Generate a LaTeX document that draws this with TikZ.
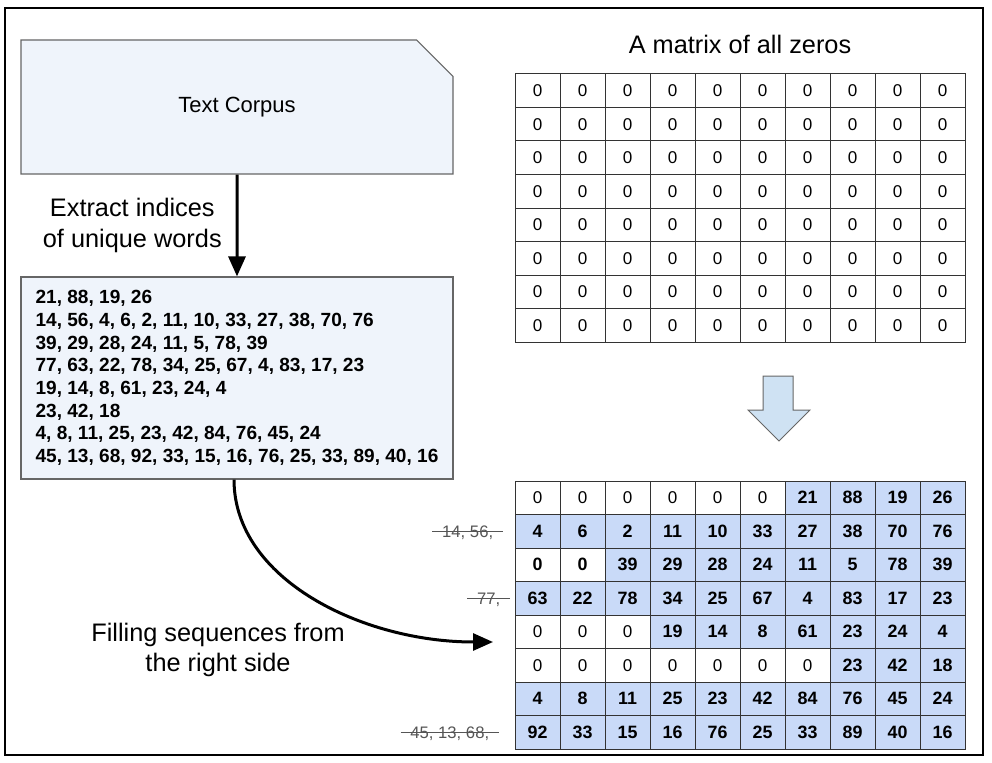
\documentclass[tikz,border=0pt]{standalone}
\usepackage{fontspec}
\setmainfont{Liberation Sans}
\usetikzlibrary{arrows.meta,shapes.misc}

\definecolor{boxfill}{RGB}{239,244,251}
\definecolor{boxline}{RGB}{102,102,102}
\definecolor{cellblue}{RGB}{201,218,248}
\definecolor{cellline}{RGB}{51,51,51}
\definecolor{arrowblue}{RGB}{207,226,243}
\definecolor{strikegray}{RGB}{85,85,85}

\tikzset{every picture/.style={line width=0.75pt}}
\tikzset{
  cell/.style={draw=cellline, line width=0.75pt, minimum width=33.75pt, minimum height=25.125pt, inner sep=0pt},
  zerocell/.style={cell, fill=white, font=\fontsize{12.8}{15}\selectfont},
  zerobold/.style={cell, fill=white, font=\fontsize{13.4}{15}\selectfont\bfseries},
  numcell/.style={cell, fill=cellblue, font=\fontsize{13.4}{15}\selectfont\bfseries},
  flowbox/.style={draw=boxline, fill=boxfill, line width=0.9pt},
  bigtext/.style={font=\fontsize{19}{23}\selectfont, align=center},
  thickarrow/.style={line width=2.25pt, -{Triangle[width=12.75pt,length=15pt]}},
  struck/.style={text=strikegray, font=\fontsize{12.5}{15}\selectfont, text height=9pt, text depth=0pt, inner xsep=7pt, anchor=east},
  strikeline/.style={strikegray, line width=0.9pt}
}

\begin{document}
\begin{tikzpicture}[x=0.75pt,y=0.75pt,yscale=-1]
	\useasboundingbox (0,0) rectangle (992,763);

	%Shape: Frame
	\draw [line width=1.2pt] (5,8) rectangle (983,755);

	%Shape: Text Corpus box
	\node [flowbox, chamfered rectangle, chamfered rectangle corners=north east, chamfered rectangle xsep=17.25pt, chamfered rectangle ysep=16.5pt, minimum width=324pt, minimum height=100.5pt, font=\fontsize{16.5}{20}\selectfont] (corpus) at (237,107) {Text Corpus};
	%Shape: index list box
	\node [flowbox, minimum width=324pt, minimum height=151.5pt, font=\fontsize{14.3}{17}\selectfont\bfseries, align=left] (indices) at (237,378) {21, 88, 19, 26\\
		14, 56, 4, 6, 2, 11, 10, 33, 27, 38, 70, 76\\
		39, 29, 28, 24, 11, 5, 78, 39\\
		77, 63, 22, 78, 34, 25, 67, 4, 83, 17, 23\\
		19, 14, 8, 61, 23, 24, 4\\
		23, 42, 18\\
		4, 8, 11, 25, 23, 42, 84, 76, 45, 24\\
		45, 13, 68, 92, 33, 15, 16, 76, 25, 33, 89, 40, 16};

	%Straight Lines
	\draw [thickarrow] (corpus) -- node [bigtext, left=7pt] (extract) {Extract indices\\of unique words} (indices);

	% Text Node
	\node [bigtext] (title) at (740,44) {A matrix of all zeros};

	%Shape: matrix of zeros
	\foreach \r in {1,...,8}
		\foreach \c in {1,...,10}
			\node [zerocell] (z-\r-\c) at (492.5+45*\c, 57.25+33.5*\r) {0};

	%Shape: Down block arrow
	\draw [draw=boxline, fill=arrowblue] (763,376) -- (793,376) -- (793,410) -- (810,410) -- (779,441) -- (748,410) -- (763,410) -- cycle;

	%Shape: filled matrix
	\foreach \r/\nz/\zs/\vals in {
		1/6/zerocell/{0,0,0,0,0,0,21,88,19,26},
		2/0/zerocell/{4,6,2,11,10,33,27,38,70,76},
		3/2/zerobold/{0,0,39,29,28,24,11,5,78,39},
		4/0/zerocell/{63,22,78,34,25,67,4,83,17,23},
		5/3/zerocell/{0,0,0,19,14,8,61,23,24,4},
		6/7/zerocell/{0,0,0,0,0,0,0,23,42,18},
		7/0/zerocell/{4,8,11,25,23,42,84,76,45,24},
		8/0/zerocell/{92,33,15,16,76,25,33,89,40,16}}
		\foreach \v [count=\c] in \vals {
			\ifnum\c>\nz \def\st{numcell}\else\def\st{\zs}\fi
			\node [\st] (f-\r-\c) at (492.5+45*\c, 464.25+33.5*\r) {\v};
		}

	% Text Node: dropped indices
	\node [struck] (s-2) at (503,531.25) {14, 56,};
	\draw [strikeline] (s-2.west) -- (s-2.east);
	\node [struck] (s-4) at (510,598.25) {77,};
	\draw [strikeline] (s-4.west) -- (s-4.east);
	\node [struck] (s-8) at (499,732.25) {45, 13, 68,};
	\draw [strikeline] (s-8.west) -- (s-8.east);

	%Curve Lines
	\coordinate (fill-in) at (493,642);
	\draw [thickarrow] ([xshift=-2.25pt]indices.south) .. controls +(0,100) and +(-130,0) .. (fill-in);

	% Text Node
	\node [bigtext] (filling) at (218,650) {Filling sequences from\\the right side};

\end{tikzpicture}
\end{document}
